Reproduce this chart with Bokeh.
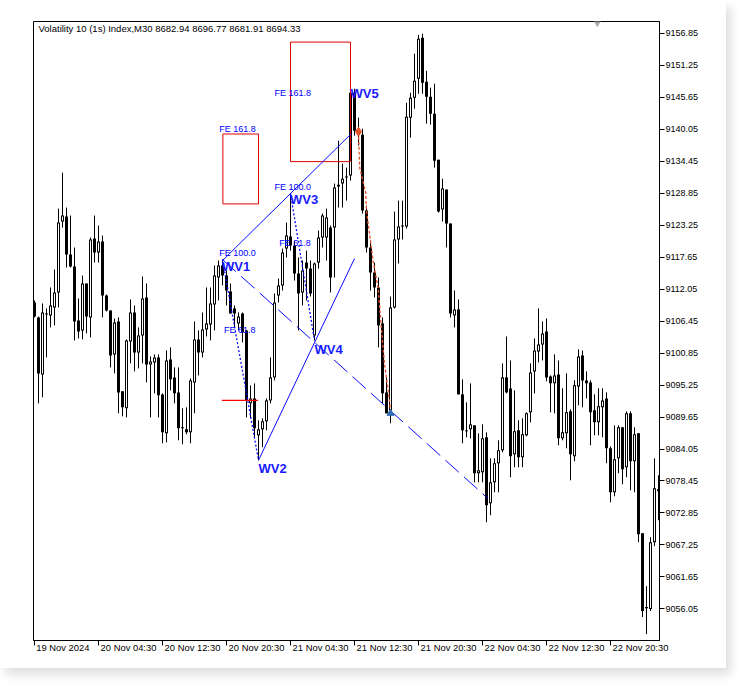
from bokeh.plotting import figure
from bokeh.models import ColumnDataSource, FixedTicker, LinearAxis, Range1d, PrintfTickFormatter, Label
from bokeh.embed import file_html
from bokeh.resources import INLINE
from bokeh.core.properties import value

# ---------------- data (M30 bars, Volatility 10 (1s) Index) ----------------
opens = [9109.72, 9107.10, 9097.12, 9107.80, 9107.45, 9108.85, 9111.47, 9123.90, 9124.77, 9118.12,
         9116.02, 9106.57, 9104.82, 9113.05, 9107.10, 9120.92, 9118.47, 9120.40, 9110.95, 9108.32,
         9100.62, 9106.40, 9094.15, 9091.17, 9102.90, 9107.97, 9100.97, 9103.95, 9110.60, 9098.87,
         9099.22, 9100.10, 9093.62, 9086.80, 9099.75, 9096.60, 9093.97, 9087.85, 9087.50, 9086.97,
         9095.72, 9103.25, 9100.97, 9105.00, 9105.87, 9109.37, 9114.10, 9116.20, 9114.45, 9111.65,
         9108.67, 9106.05, 9107.80, 9104.82, 9092.05, 9092.92, 9086.45, 9087.50, 9088.90, 9092.57,
         9096.60, 9110.95, 9112.70, 9119.17, 9121.27, 9119.70, 9114.80, 9111.47, 9116.72, 9115.67,
         9103.95, 9116.72, 9121.10, 9121.10, 9122.85, 9122.85, 9130.02, 9130.55, 9131.60, 9131.95,
         9146.47, 9139.82, 9139.12, 9125.82, 9119.35, 9114.97, 9112.35, 9106.05, 9093.97, 9090.82,
         9108.85, 9120.75, 9123.20, 9123.02, 9142.10, 9145.60, 9148.92, 9156.10, 9148.40, 9145.77,
         9142.80, 9134.75, 9126.00, 9129.50, 9123.55, 9107.45, 9108.50, 9093.62, 9087.32, 9087.50,
         9088.20, 9079.80, 9079.97, 9086.10, 9074.55, 9078.22, 9081.55, 9083.82, 9096.60, 9094.67,
         9083.12, 9087.32, 9082.60, 9086.45, 9090.47, 9097.65, 9101.15, 9102.37, 9104.65, 9096.77,
         9095.55, 9097.12, 9085.92, 9086.80, 9090.65, 9082.77, 9095.02, 9100.45, 9096.07, 9095.72,
         9090.82, 9088.72, 9091.35, 9092.92, 9084.17, 9076.47, 9082.42, 9087.85, 9080.85, 9090.30,
         9081.90, 9086.80, 9069.30, 9056.17, 9056.00, 9067.72, 9077.00]

highs = [9110.07, 9107.27, 9109.55, 9108.67, 9112.35, 9115.50, 9126.17, 9132.47, 9126.35, 9124.95,
         9119.35, 9110.42, 9114.45, 9113.05, 9121.10, 9124.95, 9123.20, 9121.45, 9111.12, 9108.32,
         9106.92, 9107.10, 9094.15, 9103.25, 9110.25, 9109.20, 9105.35, 9114.27, 9113.05, 9100.27,
         9100.62, 9100.62, 9093.80, 9101.32, 9101.85, 9098.35, 9098.35, 9091.17, 9091.35, 9096.42,
         9106.40, 9104.82, 9107.97, 9112.35, 9112.35, 9116.20, 9117.07, 9117.25, 9115.32, 9113.05,
         9109.20, 9107.97, 9107.97, 9104.82, 9095.20, 9095.55, 9089.07, 9089.42, 9092.92, 9100.10,
         9111.30, 9113.92, 9119.17, 9123.72, 9128.80, 9120.57, 9117.60, 9117.07, 9118.82, 9117.07,
         9116.72, 9122.32, 9125.30, 9126.17, 9123.20, 9130.55, 9138.07, 9134.05, 9133.35, 9147.17,
         9147.17, 9142.10, 9140.17, 9126.70, 9120.57, 9116.72, 9114.10, 9107.10, 9096.60, 9110.77,
         9125.65, 9127.57, 9127.57, 9144.72, 9146.47, 9153.30, 9156.62, 9156.80, 9150.32, 9147.35,
         9148.05, 9134.75, 9131.42, 9129.50, 9123.55, 9111.82, 9110.25, 9096.25, 9092.22, 9095.55,
         9088.20, 9086.80, 9088.37, 9086.97, 9082.42, 9082.42, 9085.57, 9099.05, 9103.77, 9099.57,
         9094.32, 9089.07, 9089.42, 9090.47, 9099.05, 9103.42, 9108.67, 9106.40, 9106.92, 9096.95,
         9100.62, 9099.57, 9094.67, 9097.30, 9091.00, 9096.07, 9101.50, 9101.32, 9097.65, 9096.07,
         9093.62, 9094.67, 9094.67, 9093.97, 9084.52, 9088.20, 9088.20, 9087.85, 9090.65, 9090.65,
         9087.85, 9086.80, 9069.30, 9060.02, 9068.60, 9082.42, 9079.45]

lows = [9107.10, 9092.05, 9093.10, 9100.10, 9105.35, 9105.70, 9108.85, 9122.85, 9115.85, 9115.85,
        9103.07, 9103.42, 9103.25, 9104.30, 9103.60, 9116.72, 9116.72, 9107.10, 9108.15, 9098.35,
        9097.30, 9090.30, 9089.77, 9089.60, 9099.05, 9097.65, 9098.17, 9099.05, 9095.72, 9089.60,
        9093.80, 9089.60, 9085.05, 9085.22, 9094.32, 9092.05, 9085.57, 9084.87, 9086.62, 9085.05,
        9090.30, 9096.95, 9100.10, 9103.77, 9103.07, 9104.82, 9110.07, 9112.70, 9109.20, 9107.80,
        9105.35, 9104.82, 9102.72, 9089.60, 9089.42, 9086.10, 9082.07, 9084.35, 9087.32, 9092.05,
        9096.07, 9109.72, 9111.82, 9117.60, 9118.82, 9113.57, 9104.82, 9109.20, 9110.07, 9110.77,
        9103.07, 9115.67, 9119.35, 9117.07, 9111.47, 9114.10, 9126.35, 9126.35, 9127.57, 9131.07,
        9138.95, 9137.20, 9125.30, 9118.47, 9111.82, 9110.60, 9101.85, 9092.05, 9090.30, 9088.55,
        9108.67, 9116.55, 9120.75, 9122.67, 9138.60, 9143.67, 9146.30, 9146.30, 9141.05, 9140.87,
        9133.35, 9125.47, 9123.90, 9119.35, 9107.10, 9105.35, 9093.62, 9085.05, 9086.10, 9085.92,
        9078.22, 9078.22, 9078.22, 9071.22, 9072.45, 9076.47, 9076.47, 9083.47, 9093.80, 9079.10,
        9080.85, 9080.85, 9080.85, 9086.27, 9088.72, 9093.80, 9099.22, 9099.57, 9095.90, 9090.47,
        9090.30, 9084.70, 9085.57, 9084.17, 9078.57, 9081.90, 9091.70, 9091.35, 9092.92, 9084.70,
        9086.45, 9086.45, 9086.10, 9081.55, 9074.72, 9075.77, 9079.80, 9077.87, 9079.10, 9076.82,
        9076.47, 9067.72, 9054.60, 9051.62, 9055.65, 9067.02, 9071.57]

closes = [9107.27, 9097.30, 9107.97, 9107.62, 9109.20, 9111.47, 9123.72, 9124.95, 9118.12, 9116.02,
          9106.40, 9104.65, 9113.05, 9107.27, 9120.75, 9118.47, 9120.40, 9110.95, 9108.32, 9100.45,
          9106.22, 9093.97, 9091.35, 9103.07, 9107.97, 9100.97, 9103.95, 9110.42, 9098.87, 9099.40,
          9100.10, 9093.45, 9086.97, 9099.57, 9096.25, 9093.80, 9087.67, 9087.67, 9086.97, 9096.07,
          9103.25, 9100.97, 9105.00, 9106.05, 9109.55, 9114.45, 9116.20, 9114.45, 9111.82, 9107.80,
          9107.80, 9107.27, 9104.47, 9092.57, 9092.92, 9087.67, 9087.50, 9088.90, 9092.57, 9096.60,
          9109.72, 9112.70, 9118.47, 9121.45, 9119.70, 9114.80, 9111.30, 9115.32, 9115.67, 9111.30,
          9116.55, 9121.10, 9124.95, 9124.60, 9114.10, 9129.85, 9130.37, 9131.42, 9131.77, 9146.47,
          9139.82, 9139.12, 9125.82, 9119.35, 9114.97, 9112.35, 9105.70, 9093.80, 9090.30, 9108.85,
          9120.75, 9123.02, 9123.02, 9142.27, 9145.60, 9148.57, 9155.92, 9148.22, 9145.77, 9142.80,
          9134.57, 9125.65, 9129.67, 9123.55, 9107.80, 9108.50, 9093.62, 9087.32, 9087.15, 9088.37,
          9079.80, 9080.32, 9085.92, 9074.20, 9078.22, 9081.55, 9083.82, 9096.60, 9093.97, 9082.77,
          9087.15, 9082.60, 9086.62, 9090.30, 9097.47, 9101.32, 9102.37, 9104.30, 9096.60, 9095.55,
          9096.95, 9085.92, 9086.97, 9090.47, 9083.12, 9095.20, 9100.27, 9096.07, 9095.55, 9090.47,
          9088.72, 9091.52, 9092.57, 9084.17, 9076.47, 9082.25, 9087.85, 9080.50, 9090.30, 9081.90,
          9086.62, 9069.12, 9055.65, 9056.35, 9067.72, 9077.17, 9076.65]

x_tick_bars = [0, 16, 32, 48, 64, 80, 96, 112, 128, 144]
x_tick_labels = ["19 Nov 2024", "20 Nov 04:30", "20 Nov 12:30", "20 Nov 20:30", "21 Nov 04:30",
                 "21 Nov 12:30", "21 Nov 20:30", "22 Nov 04:30", "22 Nov 12:30", "22 Nov 20:30"]
price_ticks = [9056.05, 9061.65, 9067.25, 9072.85, 9078.45, 9084.05, 9089.65, 9095.25, 9100.85,
               9106.45, 9112.05, 9117.65, 9123.25, 9128.85, 9134.45, 9140.05, 9145.65, 9151.25, 9156.85]

title_text = "Volatility 10 (1s) Index,M30  8682.94 8696.77 8681.91 8694.33"

# Elliott wave annotations (bar index, price)
wave_names = ["WV1", "WV2", "WV3", "WV4", "WV5"]
wave_label_x = [46.9, 56.0, 63.9, 70.0, 79.0]
wave_label_y = [9116.02, 9080.67, 9127.75, 9101.50, 9146.38]

fe_texts = ["FE 161.8", "FE 100.0", "FE 61.8", "FE 161.8", "FE 100.0", "FE 61.8"]
fe_x = [46.2, 46.2, 47.35, 60.0, 60.0, 61.2]
fe_y = [9140.17, 9118.38, 9104.91, 9146.38, 9130.02, 9120.22]

box_left = [47.1, 64.0]
box_right = [56.0, 79.0]
box_top = [9139.24, 9155.34]
box_bottom = [9126.99, 9134.40]

line_a_x = [47.0, 79.2]          # WV1 -> towards WV5
line_a_y = [9117.07, 9139.30]
line_b_x = [56.0, 80.0]          # WV2 -> through WV4
line_b_y = [9082.07, 9117.42]
line_c_x = [47.0, 113.3]         # dashed WV1 -> through WV4
line_c_y = [9117.25, 9075.42]
line_d_x = [47.0, 56.0]          # dotted WV1 -> WV2
line_d_y = [9117.25, 9082.07]
line_e_x = [64.0, 70.0]          # dotted WV3 -> WV4
line_e_y = [9128.80, 9103.07]

red_level_x = [46.85, 55.85]
red_level_y = [9092.57, 9092.57]

orange_x = [81.0, 81.3, 82.8, 83.0, 84.7, 85.9, 86.7, 87.5, 88.4, 89.0]
orange_y = [9139.65, 9133.35, 9128.97, 9125.82, 9116.72, 9112.35, 9105.35, 9099.05, 9094.32, 9090.82]

sell_mark_x = [81.0]
sell_mark_y = [9139.65]
buy_mark_x = [89.0]
buy_mark_y = [9090.30]

shift_mark_x = [140.7]

# ---------------- figure ----------------
Y0, Y1 = 9050.50, 9158.95
FRAME_H = 619
PX = (Y1 - Y0) / FRAME_H          # price per screen pixel

n = len(opens)
bars = list(range(n))
top = [max(o, c) for o, c in zip(opens, closes)]
bot = [min(o, c) for o, c in zip(opens, closes)]
# outer (black) body, at least one pixel tall
otop = [t + max(0.0, (PX - (t - b)) / 2) for t, b in zip(top, bot)]
obot = [b - max(0.0, (PX - (t - b)) / 2) for t, b in zip(top, bot)]
src = ColumnDataSource(dict(x=bars, high=highs, low=lows, top=otop, bottom=obot))
# hollow interior for rising candles
ux = [i for i in bars if closes[i] >= opens[i] and (top[i] - bot[i]) > 2 * PX]
usrc = ColumnDataSource(dict(x=ux, top=[top[i] - PX for i in ux], bottom=[bot[i] + PX for i in ux]))

p = figure(width=726, height=668,
           x_range=Range1d(-0.25, 156.25), y_range=Range1d(Y0, Y1),
           output_backend="svg", toolbar_location=None,
           x_axis_location=None, y_axis_location=None,
           min_border_left=33, min_border_right=67, min_border_top=21, min_border_bottom=28)
p.grid.visible = False
p.outline_line_color = "black"
p.outline_line_width = 1
p.background_fill_color = "white"
p.border_fill_color = "white"
p.styles = {"box-shadow": "5px 7px 10px rgba(0,0,0,0.13)"}

# right price axis
yaxis = LinearAxis(ticker=FixedTicker(ticks=price_ticks), formatter=PrintfTickFormatter(format="%.2f"))
yaxis.major_tick_out = 5
yaxis.major_tick_in = 0
yaxis.minor_tick_out = 0
yaxis.minor_tick_in = 0
yaxis.major_label_standoff = 1
yaxis.major_label_text_font = "Liberation Sans"
yaxis.major_label_text_font_size = "9px"
yaxis.major_label_text_color = "black"
yaxis.axis_line_color = "black"
yaxis.major_tick_line_color = "black"
p.add_layout(yaxis, "right")

# time axis: tick marks as minor ticks at bar positions, labels placed to the right of them
label_pos = [b + (7.1 if i == 0 else 7.5) for i, b in enumerate(x_tick_bars)]
xaxis = LinearAxis(ticker=FixedTicker(ticks=label_pos, minor_ticks=x_tick_bars))
xaxis.major_label_overrides = {pos: lab for pos, lab in zip(label_pos, x_tick_labels)}
xaxis.major_tick_out = 0
xaxis.major_tick_in = 0
xaxis.major_tick_line_color = None
xaxis.minor_tick_out = 5
xaxis.minor_tick_in = 0
xaxis.minor_tick_line_color = "black"
xaxis.major_label_standoff = -4
xaxis.major_label_text_font = "Liberation Sans"
xaxis.major_label_text_font_size = "9.4px"
xaxis.major_label_text_color = "black"
xaxis.axis_line_color = "black"
p.add_layout(xaxis, "below")

# candles
p.segment(x0="x", y0="high", x1="x", y1="low", source=src, line_color="black", line_width=1)
p.vbar(x="x", width=0.75, top="top", bottom="bottom", source=src, fill_color="black", line_color=None)
p.vbar(x="x", width=0.25, top="top", bottom="bottom", source=usrc, fill_color="white", line_color=None)

# annotations
blue = "#0a0aff"
p.quad(left=box_left, right=box_right, top=box_top, bottom=box_bottom,
       fill_color=None, line_color="#e00000", line_width=1)
p.line(line_a_x, line_a_y, line_color=blue, line_width=1)
p.line(line_b_x, line_b_y, line_color=blue, line_width=1)
p.line(line_c_x, line_c_y, line_color=blue, line_width=1, line_dash="18 7")
p.line(line_d_x, line_d_y, line_color=blue, line_width=1.3, line_dash="2 2")
p.line(line_e_x, line_e_y, line_color=blue, line_width=1.3, line_dash="2 2")
p.line(red_level_x, red_level_y, line_color="#ff0000", line_width=1.3)
p.line(orange_x, orange_y, line_color="#e8502a", line_width=1.3, line_dash="3 2")
p.scatter(sell_mark_x, sell_mark_y, marker="diamond", size=9, fill_color="#e8502a", line_color="#e8502a")
p.scatter(buy_mark_x, buy_mark_y, marker="triangle", size=7, fill_color="#2f6db5", line_color="#2f6db5")

p.text(x=fe_x, y=fe_y, text=fe_texts, text_font=value("Liberation Sans"), text_font_size="9px",
       text_color="#0000ff", text_baseline="middle", text_align="left")
p.text(x=wave_label_x, y=wave_label_y, text=wave_names, text_font=value("Liberation Sans"),
       text_font_size="13px", text_font_style="bold", text_color="#1a1aff",
       text_baseline="middle", text_align="left")

p.scatter(shift_mark_x, [Y1], marker="inverted_triangle", size=10, fill_color="#a9a9a9", line_color=None)

p.add_layout(Label(x=1.0, y=9157.75, text=title_text, text_font="Liberation Sans",
                   text_font_size="9.5px", text_color="black", text_baseline="middle", text_align="left"))

open("out.html", "w").write(file_html(p, INLINE))
